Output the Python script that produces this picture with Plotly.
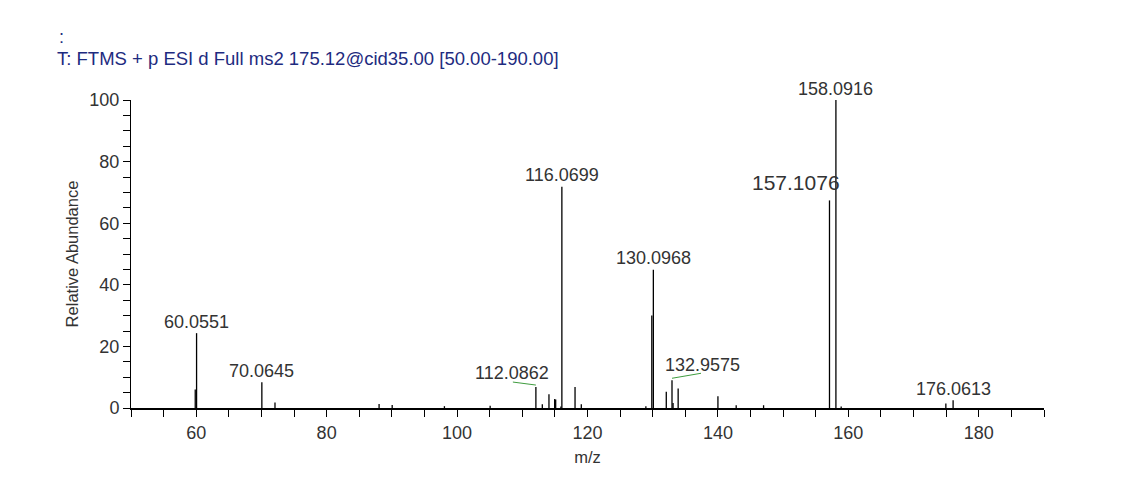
import plotly.graph_objects as go

# peak list (m/z, relative abundance %)
mz = [59.85, 60.0551, 70.0645, 72.08, 88.04, 90.05, 98.06, 105.07,
      112.0862, 113.07, 114.09, 114.96, 115.12, 115.92, 116.0699,
      118.09, 119.05, 128.95, 129.86, 130.0968, 132.08, 132.9575,
      133.12, 133.9, 140.0, 142.8, 147.0, 157.1076, 158.0916, 158.9,
      174.95, 176.0613]
intensity = [6.0, 24.3, 8.4, 1.8, 1.3, 1.0, 0.6, 0.7,
             6.8, 1.2, 4.5, 2.9, 2.8, 0.5, 71.8,
             6.8, 1.2, 0.6, 30.0, 44.9, 5.3, 9.0,
             1.6, 6.3, 3.8, 0.9, 0.9, 67.4, 100.0, 0.5,
             1.5, 2.5]

labeled_mz = [60.0551, 70.0645, 112.0862, 116.0699, 130.0968,
              132.9575, 157.1076, 158.0916, 176.0613]

scan_header = "T: FTMS + p ESI d Full ms2 175.12@cid35.00 [50.00-190.00]"

FONT = "Liberation Sans, Arial, sans-serif"
GREEN = "#3f9c3f"
W, H = 1128, 488  # page body adds an 8px offset

# label offsets in pixels (most labels sit centered just above the peak)
label_style = {
    112.0862: dict(dx=-24, dy=14, leader=(-23, 3)),
    132.9575: dict(dx=30, dy=15, leader=(29, 5)),
    157.1076: dict(dx=13, dy=18, anchor="right", size=21),
}

height_of = dict(zip(mz, intensity))

# sticks
xs, ys = [], []
for m, h in zip(mz, intensity):
    xs += [m, m, None]
    ys += [0, h, None]

fig = go.Figure(go.Scatter(x=xs, y=ys, mode="lines",
                           line=dict(color="black", width=1.3),
                           hoverinfo="skip", showlegend=False))

annotations = []
shapes = []
for m in labeled_mz:
    st = label_style.get(m, {})
    annotations.append(dict(
        x=m, y=height_of[m], xref="x", yref="y",
        text=f"{m:.4f}", showarrow=False,
        xanchor=st.get("anchor", "center"), yanchor="middle",
        xshift=st.get("dx", 0), yshift=st.get("dy", 11.5),
        font=dict(family=FONT, size=st.get("size", 18), color="#333333"),
    ))
    if "leader" in st:
        lx, ly = st["leader"]
        shapes.append(dict(
            type="line", xref="x", yref="y",
            xsizemode="pixel", ysizemode="pixel",
            xanchor=m, yanchor=height_of[m],
            x0=0, x1=lx, y0=2, y1=2 + ly,
            line=dict(color=GREEN, width=1),
        ))

# the lone ':' line above the scan header
annotations.append(dict(
    x=-0.081, y=1.205, xref="paper", yref="paper", text=":",
    showarrow=False, xanchor="left", yanchor="middle",
    font=dict(family=FONT, size=18, color="#1e2b80"),
))

fig.update_layout(
    width=W, height=H,
    margin=dict(l=123, r=92, t=92, b=88),
    plot_bgcolor="white", paper_bgcolor="white",
    font=dict(family=FONT, size=18, color="#333333"),
    title=dict(text=scan_header, xref="container", yref="container",
               x=49 / W, xanchor="left", y=1 - 51 / H, yanchor="middle",
               font=dict(family=FONT, size=18.5, color="#1e2b80")),
    annotations=annotations,
    shapes=shapes,
)

fig.update_xaxes(
    range=[50, 190], tick0=0, dtick=20,
    ticks="outside", ticklen=7, tickwidth=1, tickcolor="black",
    showline=True, linecolor="black", linewidth=2,
    showgrid=False, zeroline=False,
    minor=dict(dtick=5, ticks="outside", ticklen=7, tickwidth=1,
               tickcolor="black", showgrid=False),
    tickfont=dict(size=18, color="#333333"),
    title=dict(text="m/z", font=dict(size=16.5, color="#333333"), standoff=10),
)
fig.update_yaxes(
    range=[0, 100], dtick=20,
    ticks="outside", ticklen=7, tickwidth=1, tickcolor="black",
    showline=True, linecolor="black", linewidth=1,
    showgrid=False, zeroline=False,
    minor=dict(dtick=5, ticks="outside", ticklen=7, tickwidth=1,
               tickcolor="black", showgrid=False),
    tickfont=dict(size=18, color="#333333"),
    title=dict(text="Relative Abundance", font=dict(size=16.5, color="#333333"),
               standoff=6),
)

fig.write_html("out.html")
